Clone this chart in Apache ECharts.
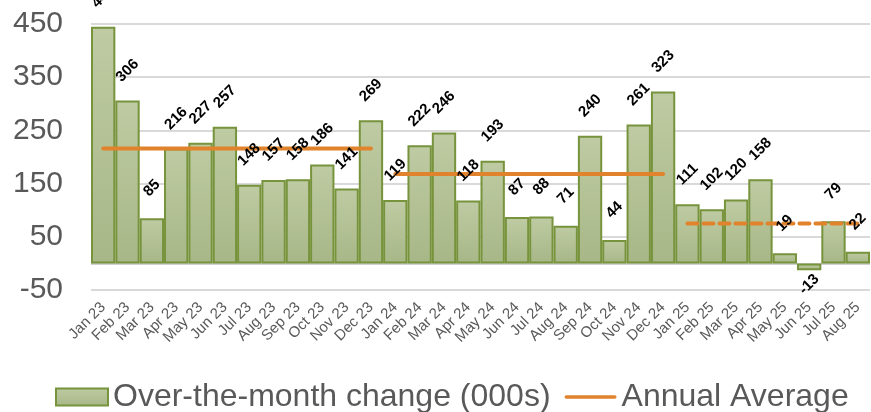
<!DOCTYPE html>
<html>
<head>
<meta charset="utf-8">
<script src="https://cdn.jsdelivr.net/npm/echarts@6/dist/echarts.min.js"></script>
<style>html,body{margin:0;padding:0;background:#fff}#c{width:871px;height:412px}</style>
</head>
<body>
<div id="c"></div>
<script>
const categories = ['Jan 23','Feb 23','Mar 23','Apr 23','May 23','Jun 23','Jul 23','Aug 23','Sep 23','Oct 23','Nov 23','Dec 23',
  'Jan 24','Feb 24','Mar 24','Apr 24','May 24','Jun 24','Jul 24','Aug 24','Sep 24','Oct 24','Nov 24','Dec 24',
  'Jan 25','Feb 25','Mar 25','Apr 25','May 25','Jun 25','Jul 25','Aug 25'];
const monthlyChange = [445,306,85,216,227,257,148,157,158,186,141,269,
  119,222,246,118,193,87,88,71,240,44,261,323,
  111,102,120,158,19,-13,79,22];
const avg2023 = 216;
const avg2024 = 168;
const avg2025 = 75;
const yTicks = [-50, 50, 150, 250, 350, 450];

function spanLine(value, startIdx, endIdx) {
  return categories.map((c, i) => (i >= startIdx && i <= endIdx) ? value : null);
}
const line2023 = spanLine(avg2023, 0, 11);
const line2024 = spanLine(avg2024, 12, 23);
const line2025 = spanLine(avg2025, 24, 31);

const gray = '#595959';
const orange = '#E0832C';
const barFill = new echarts.graphic.LinearGradient(0, 0, 0, 1, [
  { offset: 0, color: '#BFCBA3' },
  { offset: 1, color: '#A7B787' }
]);

const labelData = monthlyChange.map(v => v < 0 ? {
  value: v,
  label: { position: 'bottom', distance: 14 }
} : v);

const chart = echarts.init(document.getElementById('c'));
chart.setOption({
  animation: false,
  grid: { left: 91, right: 1, top: 24, bottom: 122, containLabel: false },
  legend: {
    left: 50, top: 376,
    itemWidth: 52, itemHeight: 17, itemGap: 14,
    textStyle: { fontFamily: 'Liberation Sans, Arial, sans-serif', fontSize: 32, color: gray },
    data: [
      { name: 'Over-the-month change (000s)', icon: 'rect' },
      { name: 'Annual Average', icon: 'path://M2,0H58A2,2 0 0 1 58,4H2A2,2 0 0 1 2,0Z', itemStyle: { color: orange } }
    ]
  },
  xAxis: {
    type: 'category',
    data: categories,
    boundaryGap: true,
    axisLine: { show: false, onZero: false },
    axisTick: { show: false },
    axisLabel: {
      interval: 0, rotate: 45, margin: 15,
      fontFamily: 'Liberation Sans, Arial, sans-serif', fontSize: 15, color: gray
    }
  },
  yAxis: {
    type: 'value',
    min: yTicks[0], max: yTicks[yTicks.length - 1], interval: 100,
    axisLine: { show: false },
    axisTick: { show: false },
    axisLabel: {
      margin: 28,
      fontFamily: 'Liberation Sans, Arial, sans-serif', fontSize: 30, color: gray
    },
    splitLine: { lineStyle: { color: '#D9D9D9', width: 2 } }
  },
  series: [
    {
      name: 'Over-the-month change (000s)',
      type: 'bar',
      data: monthlyChange,
      barCategoryGap: '0%',
      itemStyle: { color: barFill, borderColor: '#77933C', borderWidth: 2 },
      z: 2,
      markLine: {
        silent: true, symbol: 'none', label: { show: false },
        lineStyle: { color: '#D0D0D0', width: 2, type: 'solid' },
        data: [{ yAxis: 0 }],
        z: 1
      }
    },
    {
      name: 'Annual Average', type: 'line', data: line2023, symbol: 'none',
      lineStyle: { color: orange, width: 4, cap: 'round' }, itemStyle: { color: orange }, z: 3
    },
    {
      name: 'Annual Average', type: 'line', data: line2024, symbol: 'none',
      lineStyle: { color: orange, width: 4, cap: 'round' }, itemStyle: { color: orange }, z: 3
    },
    {
      name: 'Annual Average', type: 'line', data: line2025, symbol: 'none',
      lineStyle: { color: orange, width: 4, type: [10, 6], cap: 'round' }, itemStyle: { color: orange }, z: 3
    },
    {
      name: 'labels', type: 'bar', data: labelData,
      barGap: '-100%', barCategoryGap: '0%',
      itemStyle: { color: 'rgba(0,0,0,0)' },
      z: 5, silent: true,
      label: {
        show: true, position: 'top', distance: 30, rotate: 45,
        align: 'center', verticalAlign: 'middle',
        fontFamily: 'Liberation Sans, Arial, sans-serif', fontSize: 15, fontWeight: 'bold', color: '#000'
      }
    }
  ]
});
</script>
</body>
</html>
